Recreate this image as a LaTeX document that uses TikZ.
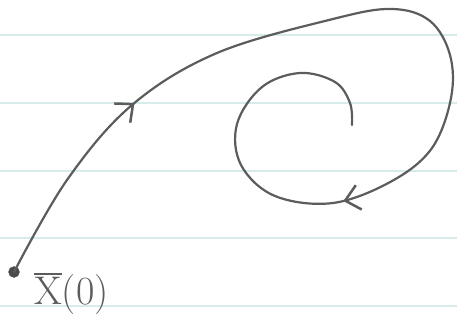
\RequirePackage{fix-cm}
\documentclass[tikz,border=0pt]{standalone}
\usetikzlibrary{arrows.meta,decorations.markings}
\newcommand{\Unit}{1pt}
\newcommand{\Pencil}{2.2pt}
\newcommand{\Barb}{Straight Barb[length=14pt,width=25pt,line width=2.5pt]}
\newcommand{\Barred}[1]{{\setbox0\hbox{#1}\rlap{\rule[1.08\ht0]{\wd0}{2pt}}\box0}}
\definecolor{graphite}{HTML}{5C5C5C}
\definecolor{lead}{HTML}{4A4A4A}
\definecolor{rule}{HTML}{D6ECEB}

\begin{document}
\begin{tikzpicture}[x=\Unit,y=-\Unit, line join=round, line cap=round,
    dot/.style={circle,fill=lead,draw=graphite,inner sep=0pt,minimum size=11pt},
    trajectory/.style={graphite,line width=\Pencil,postaction={decorate},
      decoration={markings,
        mark=at position 0.19 with {\arrow{\Barb}},
        mark=at position 0.70 with {\arrow{\Barb}}}}]

  \useasboundingbox (0,0) rectangle (457,326);

  % ---- ruled paper ---------------------------------------------------------
  \foreach \y in {35,103,171,238,306} {
    \draw[rule,line width=1.3pt] (0,\y) -- (457,\y);
  }

  % ---- initial state ---------------------------------------------------------
  \node[dot] (start) at (14,272) {};
  \node[graphite,anchor=west,inner sep=0pt] (label) at (34,294)
    {\fontsize{40}{42}\selectfont\Barred{X}(0)};

  % ---- trajectory: up to the right, round the top, spiralling into the sink --
  \coordinate (sink) at (352,125);
  \draw[trajectory] plot[smooth,tension=0.6] coordinates {
    (start) (67,180) (132,105) (217,53) (333,19) (392,9) (430,21)
    (450,55) (451,98) (432,148) (392,181) (333,203) (275,196) (241,165)
    (237,124) (262,87) (300,73) (335,82) (350,103) (sink)};

\end{tikzpicture}
\end{document}
